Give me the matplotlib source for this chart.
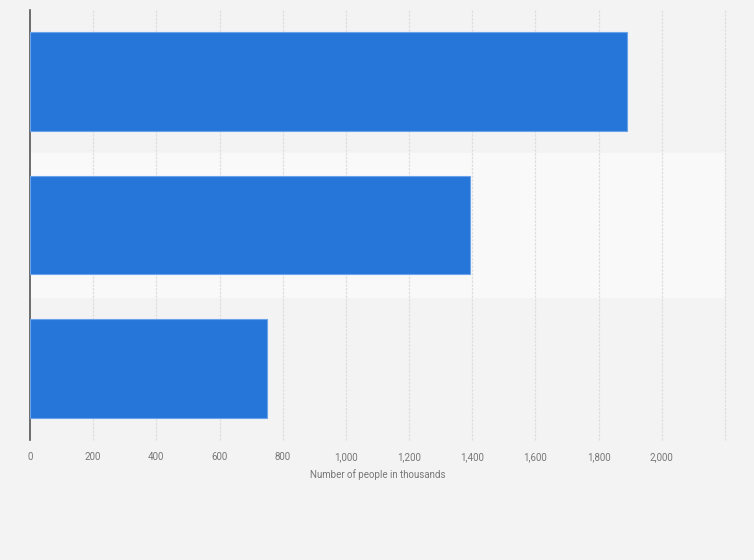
import matplotlib.pyplot as plt
from matplotlib.ticker import FuncFormatter

# values (thousands of people), top to bottom
categories = ['A', 'B', 'C']
values = [1890, 1394, 751]
x_ticks = [0, 200, 400, 600, 800, 1000, 1200, 1400, 1600, 1800, 2000]

plt.rcParams['font.family'] = ['Roboto', 'DejaVu Sans']

bg = '#f3f3f3'
bar_color = '#2676d9'

fig = plt.figure(figsize=(7.54, 5.6), dpi=100, facecolor=bg)
ax = fig.add_axes([30 / 754, 1 - 440 / 560, 695 / 754, 430 / 560])
ax.set_facecolor(bg)

y = list(range(len(categories)))
ax.set_ylim(len(categories) - 0.5, -0.5)
ax.set_xlim(0, 2200)

# lighter band behind every other row
for i in y:
    if i % 2 == 1:
        ax.axhspan(i - 0.5, i + 0.5, color='#f9f9f9', zorder=0)

ax.barh(y, values, height=0.69, color=bar_color, edgecolor='#6aa3ea',
        linewidth=0.8, zorder=3)

# dashed vertical gridlines incl. the 2200 one at the right edge
for v in x_ticks[1:] + [2200]:
    ax.axvline(v, color='#dedede', linestyle=(0, (2, 1)), linewidth=0.9,
               zorder=1, clip_on=False)

ax.set_xticks(x_ticks)
ax.xaxis.set_major_formatter(FuncFormatter(lambda v, p: f'{int(v):,}'))
ax.tick_params(axis='x', length=0, pad=9, labelsize=7, labelcolor='#777777')
ax.set_yticks([])

for s in ['top', 'right', 'bottom']:
    ax.spines[s].set_visible(False)
ax.spines['left'].set_color('#555555')
ax.spines['left'].set_linewidth(1.2)

ax.set_xlabel('Number of people in thousands', fontsize=7, color='#777777', labelpad=5)

fig.savefig('out.png', dpi=100, facecolor=bg)
